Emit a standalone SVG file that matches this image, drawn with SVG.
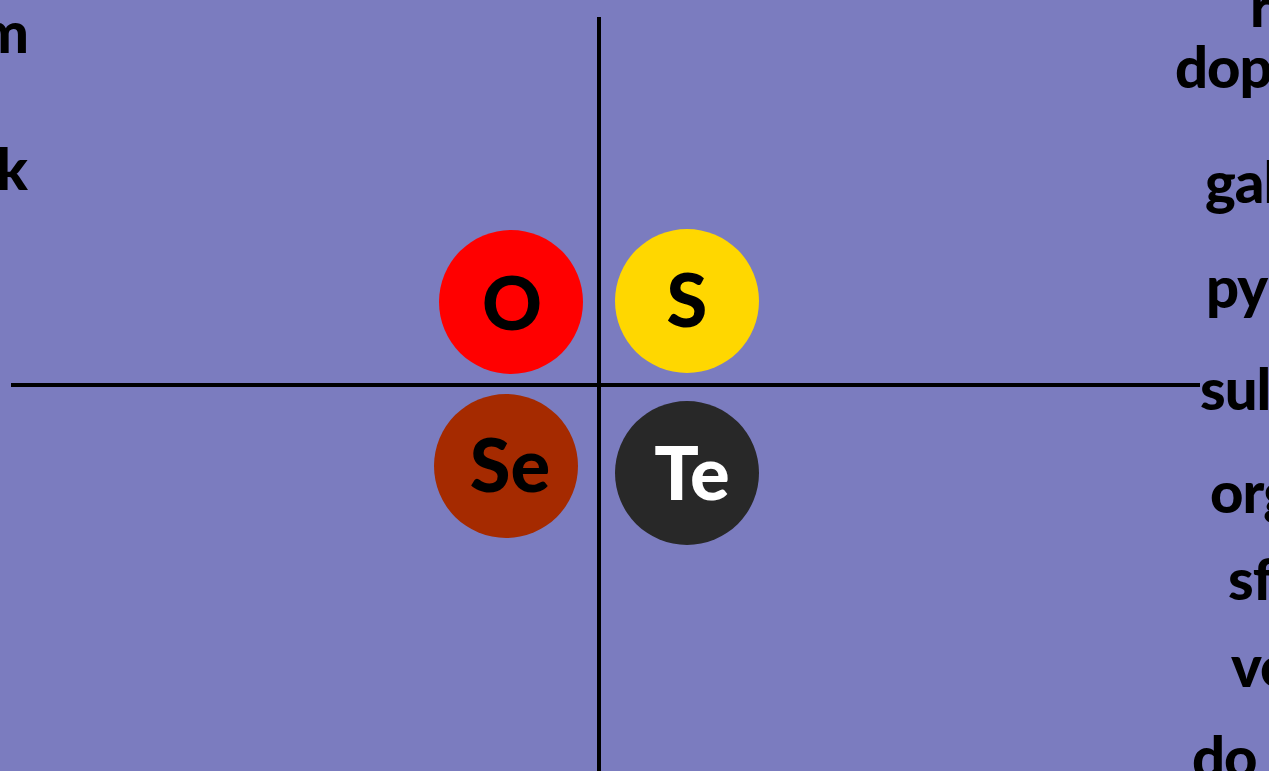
<svg xmlns="http://www.w3.org/2000/svg" width="1269" height="771" viewBox="0 0 1269 771">
<style>
.t{font-family:Lato,"Open Sans","Liberation Sans",sans-serif;font-weight:900;fill:#000}
.side{font-size:58px;letter-spacing:-1px}
.lab{font-size:74px;text-anchor:middle}
.ax{stroke:#000;stroke-width:4;fill:none}
</style>
<rect width="1269" height="771" fill="#7b7cbf"/>
<g id="connectors">
<line class="ax" x1="599" y1="17" x2="599" y2="771"/>
<line class="ax" x1="11" y1="385" x2="1200" y2="385"/>
</g>
<g id="node-O"><circle cx="511" cy="302" r="72" fill="#ff0000"/><text class="t lab" x="512" y="330">O</text></g>
<g id="node-S"><circle cx="687" cy="301" r="72" fill="#ffd700"/><text class="t lab" x="687" y="327">S</text></g>
<g id="node-Se"><circle cx="506" cy="466" r="72" fill="#a52a00"/><text class="t lab" x="510" y="492">Se</text></g>
<g id="node-Te"><circle cx="687" cy="473" r="72" fill="#282828"/><text class="t lab" x="692" y="500" style="fill:#fff">Te</text></g>
<g id="left-labels">
<text class="t side" x="28" y="53" text-anchor="end">m</text>
<text class="t side" x="27" y="190" text-anchor="end">k</text>
</g>
<g id="right-labels">
<text class="t side" x="1250" y="27">r</text>
<text class="t side" x="1175" y="88">dop</text>
<text class="t side" x="1205" y="203">gal</text>
<text class="t side" x="1206" y="308">pyr</text>
<text class="t side" x="1200" y="410">sul</text>
<text class="t side" x="1210" y="513">org</text>
<text class="t side" x="1228" y="600">sf</text>
<text class="t side" x="1231" y="687">vo</text>
<text class="t side" x="1192" y="778">do</text>
</g>
</svg>
